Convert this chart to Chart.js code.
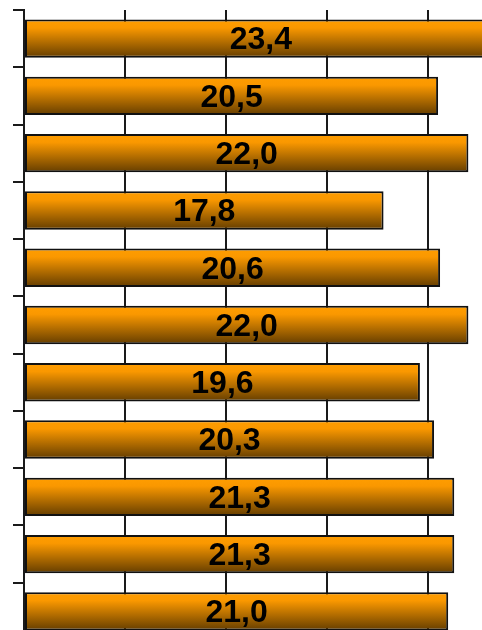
<!DOCTYPE html>
<html>
<head>
<meta charset="utf-8">
<script src="https://cdn.jsdelivr.net/npm/chart.js@4/dist/chart.umd.min.js"></script>
<style>
  html, body { margin: 0; padding: 0; background: #fff; overflow: hidden; }
  #wrap { position: absolute; left: 0; top: 0; }
</style>
</head>
<body>
<div id="wrap"><canvas id="chart" width="540" height="650"></canvas></div>
<script>
// rows from top to bottom
const categories = ["1", "2", "3", "4", "5", "6", "7", "8", "9", "10", "11"];
const values = [23.4, 20.5, 22.0, 17.8, 20.6, 22.0, 19.6, 20.3, 21.3, 21.3, 21.0];
const xTicks = [0, 5, 10, 15, 20, 25];

const BAR_PCT = 0.67;

function formatValue(v) {
  return v.toFixed(1).replace(".", ",");
}

// per-bar vertical gradient, bright orange on top fading to brown
function barFill(context) {
  const chart = context.chart;
  const { chartArea, scales } = chart;
  if (!chartArea || context.type !== "data") return "#ff9a00";
  const yc = scales.y.getPixelForValue(context.dataIndex);
  const half = (scales.y.height / categories.length) * BAR_PCT / 2;
  const g = chart.ctx.createLinearGradient(0, yc - half, 0, yc + half);
  g.addColorStop(0, "#ff9d00");
  g.addColorStop(0.22, "#fa9800");
  g.addColorStop(1, "#643d00");
  return g;
}

const valueLabels = {
  id: "valueLabels",
  afterDatasetsDraw(chart) {
    const c = chart.ctx;
    const meta = chart.getDatasetMeta(0);
    c.save();
    c.font = "bold 32px 'Liberation Sans', Arial, sans-serif";
    c.fillStyle = "#000";
    c.textAlign = "center";
    c.textBaseline = "middle";
    meta.data.forEach((bar, i) => {
      const x = (bar.x + bar.base) / 2;
      c.fillText(formatValue(values[i]), x, bar.y + 2);
    });
    c.restore();
  }
};

new Chart(document.getElementById("chart"), {
  type: "bar",
  data: {
    labels: categories,
    datasets: [{
      data: values,
      backgroundColor: barFill,
      borderColor: "#111",
      borderWidth: 2,
      borderSkipped: false,
      categoryPercentage: 1,
      barPercentage: BAR_PCT
    }]
  },
  options: {
    indexAxis: "y",
    responsive: false,
    animation: false,
    devicePixelRatio: 1,
    layout: { padding: { left: 0, top: 10, right: 11, bottom: 10 } },
    plugins: {
      legend: { display: false },
      tooltip: { enabled: false }
    },
    scales: {
      x: {
        min: xTicks[0],
        max: xTicks[xTicks.length - 1],
        afterBuildTicks(scale) {
          scale.ticks = xTicks.map(v => ({ value: v }));
        },
        afterFit(scale) { scale.height = 0; },
        ticks: { display: false },
        grid: { color: "#1a1a1a", lineWidth: 2, drawTicks: false },
        border: { display: false }
      },
      y: {
        offset: true,
        afterFit(scale) { scale.width = 24; },
        ticks: { display: false },
        grid: {
          offset: true,
          drawOnChartArea: false,
          drawTicks: true,
          tickLength: 11,
          color: "#1a1a1a",
          lineWidth: 2
        },
        border: { display: true, color: "#1a1a1a", width: 2 }
      }
    }
  },
  plugins: [valueLabels]
});
</script>
</body>
</html>
